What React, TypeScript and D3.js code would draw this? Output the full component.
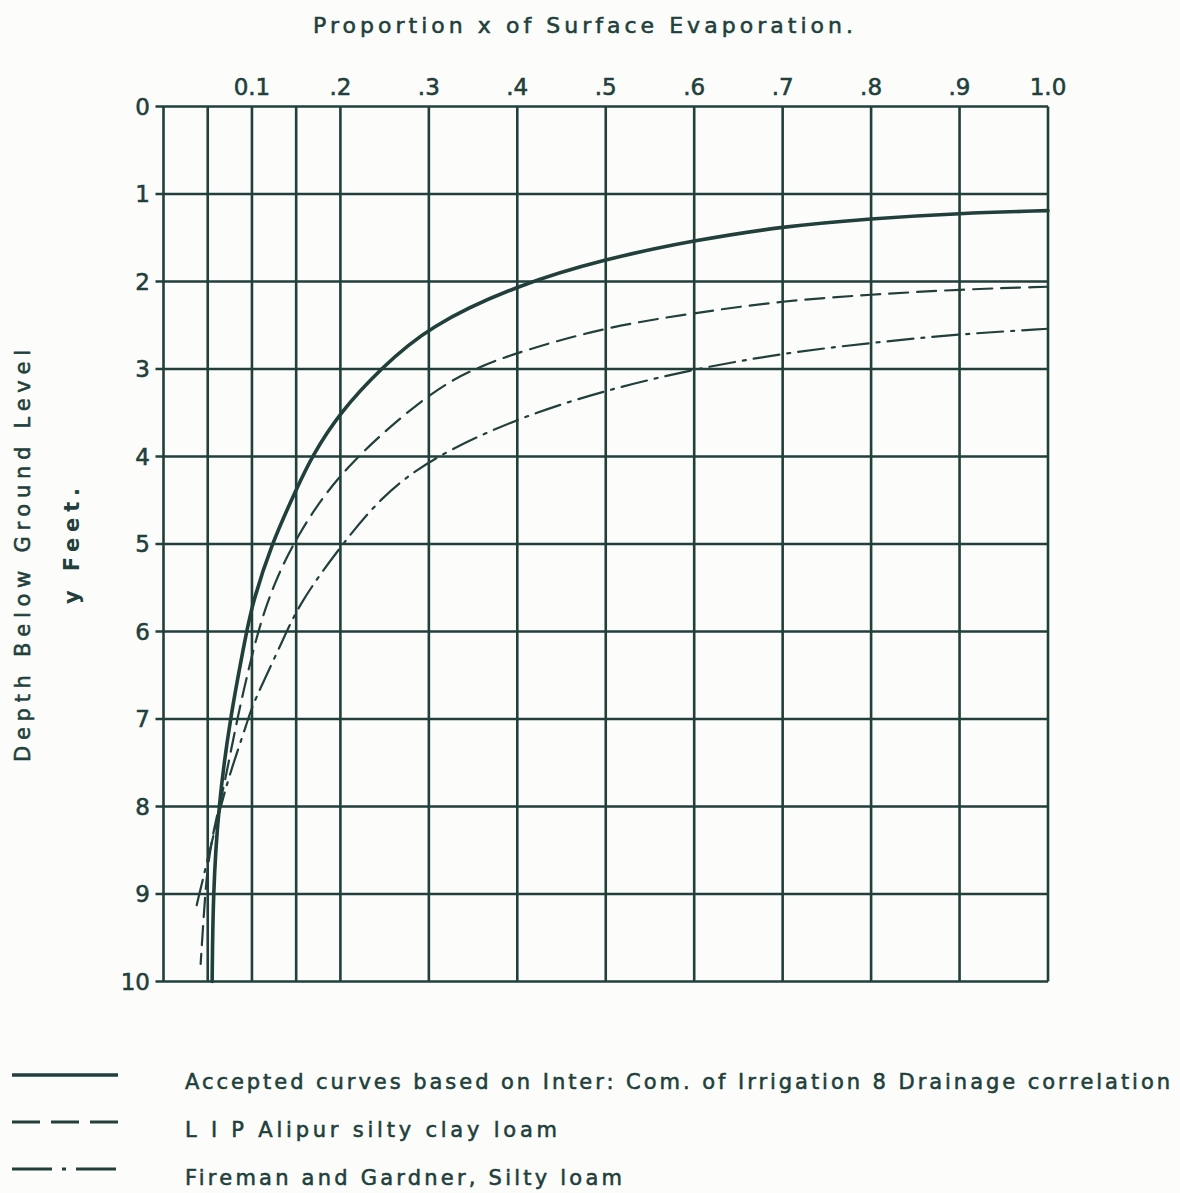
import React from "react";
import * as d3 from "d3";

// ---- data ----
const xTicks = [0.1, 0.2, 0.3, 0.4, 0.5, 0.6, 0.7, 0.8, 0.9, 1.0];
const xTickLabels = ["0.1", ".2", ".3", ".4", ".5", ".6", ".7", ".8", ".9", "1.0"];
const xGrid = [0, 0.05, 0.1, 0.15, 0.2, 0.3, 0.4, 0.5, 0.6, 0.7, 0.8, 0.9, 1.0];
const yTicks = [0, 1, 2, 3, 4, 5, 6, 7, 8, 9, 10];

const acceptedX = [1.0, 0.9, 0.8, 0.7, 0.6, 0.5, 0.4, 0.3, 0.245, 0.2, 0.1675, 0.15, 0.122, 0.1, 0.094, 0.075, 0.062, 0.056, 0.055];
const acceptedY = [1.19, 1.22, 1.28, 1.37, 1.53, 1.74, 2.04, 2.51, 3.0, 3.49, 4.0, 4.38, 5.0, 5.7, 6.0, 7.0, 8.0, 9.0, 10.0];

const lipX = [1.0, 0.9, 0.8, 0.7, 0.6, 0.5, 0.4, 0.35, 0.3, 0.2, 0.15, 0.125, 0.106, 0.083, 0.068, 0.058, 0.051, 0.047, 0.042];
const lipY = [2.06, 2.09, 2.15, 2.22, 2.36, 2.52, 2.81, 3.0, 3.27, 4.15, 4.92, 5.45, 6.0, 7.0, 7.8, 8.2, 8.6, 9.0, 9.8];

const fgX = [1.0, 0.9, 0.8, 0.7, 0.6, 0.5, 0.4, 0.3, 0.245, 0.2, 0.154, 0.135, 0.1, 0.096, 0.075, 0.062, 0.05, 0.037];
const fgY = [2.54, 2.6, 2.7, 2.82, 3.0, 3.24, 3.56, 4.03, 4.47, 5.03, 5.67, 6.1, 6.85, 7.0, 7.62, 8.1, 8.6, 9.15];

const legendLabels = [
  "Accepted curves based on Inter: Com. of Irrigation 8 Drainage correlation",
  "L I P  Alipur silty clay loam",
  "Fireman and Gardner, Silty loam",
];
const titleText = "Proportion x of Surface   Evaporation.";
const yTitle1 = "Depth   Below   Ground   Level";
const yTitle2 = "y Feet.";

// ---- layout ----
const W = 1180;
const H = 1193;
const INK = "#213f3b";
const FONT = "'DejaVu Sans', sans-serif";

const x = d3.scaleLinear().domain([0, 1]).range([163.5, 1048]);
const y = d3.scaleLinear().domain([0, 10]).range([106.5, 981.5]);

const mk = (xs: number[], ys: number[]) => xs.map((v, i) => [v, ys[i]] as [number, number]);

const line = d3
  .line<[number, number]>()
  .x((d) => x(d[0]))
  .y((d) => y(d[1]))
  .curve(d3.curveBasis);

const series = [
  { pts: mk(acceptedX, acceptedY), width: 3.6, dash: "" },
  { pts: mk(lipX, lipY), width: 2.2, dash: "19 9" },
  { pts: mk(fgX, fgY), width: 2.2, dash: "26 8 3 8" },
];

const legendDash = ["", "28 11", "40 10 4 10"];
const legendWidths = [3.6, 3, 3];
const legendTextLen = [985, 372, 437];

const textStyle = { stroke: INK, strokeWidth: 0.55 } as const;

export default function App() {
  return (
    <svg
      width={W}
      height={H}
      style={{ position: "absolute", left: 0, top: 0, background: "#fcfcfa" }}
      fontFamily={FONT}
    >
      <rect x={0} y={0} width={W} height={H} fill="#fcfcfa" />
      {/* title */}
      <text x={313} y={33} fontSize={22} fill={INK} {...textStyle} textLength={540} lengthAdjust="spacing">
        {titleText}
      </text>
      {/* y titles */}
      <text
        transform={`translate(30,556) rotate(-90)`}
        textAnchor="middle"
        fontSize={21}
        fill={INK}
        {...textStyle}
        textLength={412}
        lengthAdjust="spacing"
      >
        {yTitle1}
      </text>
      <text
        transform={`translate(79,546) rotate(-90)`}
        textAnchor="middle"
        fontSize={21}
        fill={INK}
        fontWeight="bold"
        textLength={116}
        lengthAdjust="spacing"
      >
        {yTitle2}
      </text>
      {/* grid */}
      <g stroke={INK} strokeWidth={2.6} fill="none">
        {xGrid.map((v) => (
          <line key={"vx" + v} x1={x(v)} x2={x(v)} y1={y(0)} y2={y(10)} />
        ))}
        {yTicks.map((v) => (
          <line key={"hy" + v} x1={x(0) - 8} x2={x(1)} y1={y(v)} y2={y(v)} />
        ))}
      </g>
      {/* x tick labels */}
      {xTicks.map((v, i) => (
        <text key={"xt" + v} x={x(v)} y={95} textAnchor="middle" fontSize={23} fill={INK} {...textStyle}>
          {xTickLabels[i]}
        </text>
      ))}
      {/* y tick labels */}
      {yTicks.map((v) => (
        <text
          key={"yt" + v}
          x={150}
          y={y(v)}
          dy="0.36em"
          textAnchor="end"
          fontSize={23}
          fill={INK}
          {...textStyle}
        >
          {v}
        </text>
      ))}
      {/* curves */}
      {series.map((s, i) => (
        <path
          key={"s" + i}
          d={line(s.pts) || ""}
          fill="none"
          stroke={INK}
          strokeWidth={s.width}
          strokeDasharray={s.dash || undefined}
          strokeLinecap="round"
        />
      ))}
      {/* legend */}
      {legendLabels.map((lab, i) => (
        <g key={"lg" + i}>
          <line
            x1={12}
            x2={118}
            y1={1075 + i * 47}
            y2={1075 + i * 47}
            stroke={INK}
            strokeWidth={legendWidths[i]}
            strokeDasharray={legendDash[i] || undefined}
          />
          <text
            x={185}
            y={1089 + i * 48}
            fontSize={21}
            fill={INK}
            {...textStyle}
            textLength={legendTextLen[i]}
            lengthAdjust="spacing"
          >
            {lab}
          </text>
        </g>
      ))}
    </svg>
  );
}
